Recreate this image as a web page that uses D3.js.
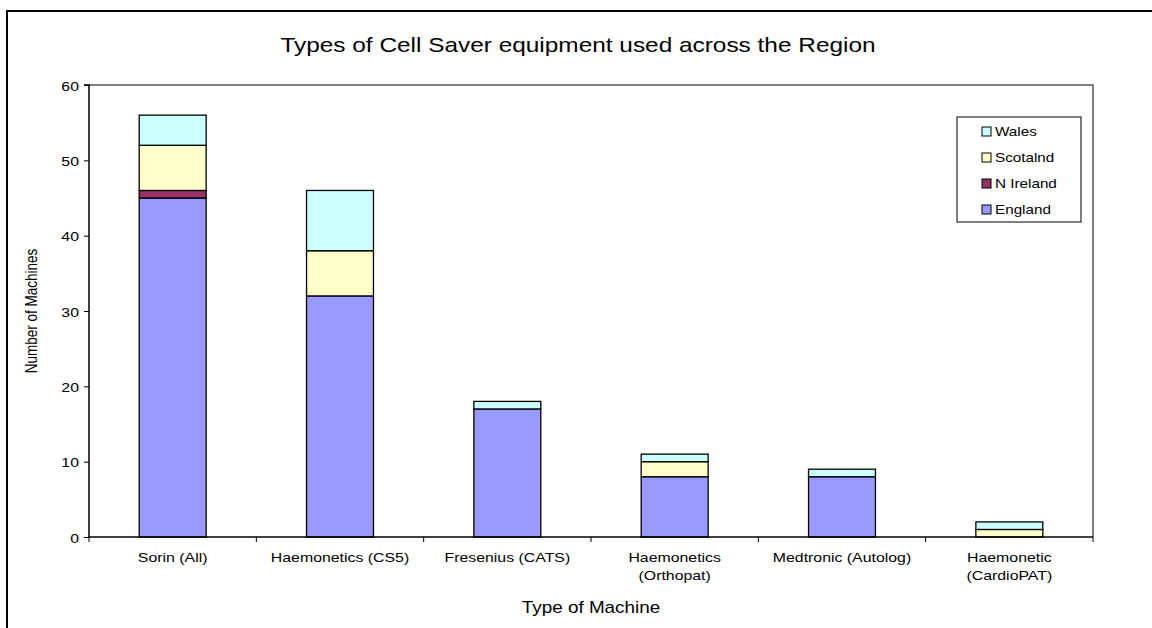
<!DOCTYPE html>
<html>
<head>
<meta charset="utf-8">
<script src="https://cdn.jsdelivr.net/npm/d3@7/dist/d3.min.js"></script>
<style>
  html, body { margin: 0; padding: 0; background: #fff; }
  svg { display: block; font-family: "Liberation Sans", Arial, sans-serif; }
</style>
</head>
<body>
<svg id="chart" width="1152" height="628"></svg>
<script>
const categories = ["Sorin (All)", "Haemonetics (CS5)", "Fresenius (CATS)", "Haemonetics\n(Orthopat)", "Medtronic (Autolog)", "Haemonetic\n(CardioPAT)"];
const seriesNames = ["England", "N Ireland", "Scotalnd", "Wales"];
const england  = [45, 32, 17, 8, 8, 0];
const nIreland = [1, 0, 0, 0, 0, 0];
const scotland = [6, 6, 0, 2, 0, 1];
const wales    = [4, 8, 1, 1, 1, 1];
const yTicks = [0, 10, 20, 30, 40, 50, 60];
const colors = ["#9999FF", "#993366", "#FFFFCC", "#CCFFFF"];

const SX = 1.22; // horizontal stretch of the reference text
const svg = d3.select("#chart");
const L = 89, R = 1093, T = 85, B = 537;

// outer chart border (cropped on right and bottom)
svg.append("path").attr("d", `M7,640 L7,11 L1160,11`).attr("fill", "none").attr("stroke", "#000").attr("stroke-width", 2);

const x = d3.scaleBand().domain(categories).range([L, R]).paddingInner(0.6).paddingOuter(0.3);
const y = d3.scaleLinear().domain([0, 60]).range([B, T]);

// plot area frame (top & right)
svg.append("path").attr("d", `M${L},${T} L${R},${T} L${R},${B}`).attr("fill", "none").attr("stroke", "#555").attr("stroke-width", 1.5);

const rows = categories.map((c, i) => ({ cat: c, England: england[i], "N Ireland": nIreland[i], Scotalnd: scotland[i], Wales: wales[i] }));
const stacked = d3.stack().keys(seriesNames)(rows);

const g = svg.append("g");
stacked.forEach((layer, si) => {
  g.selectAll(null).data(layer.filter(d => d[1] > d[0])).enter().append("rect")
    .attr("x", d => x(d.data.cat))
    .attr("width", x.bandwidth())
    .attr("y", d => y(d[1]))
    .attr("height", d => y(d[0]) - y(d[1]))
    .attr("fill", colors[si])
    .attr("stroke", "#000")
    .attr("stroke-width", 1.3);
});

// helper for stretched text
function stext(parent, cx, cy, str, size, anchor, sx) {
  return parent.append("text")
    .attr("transform", `translate(${cx},${cy}) scale(${sx},1)`)
    .attr("text-anchor", anchor).attr("font-size", size).attr("fill", "#000").text(str);
}

// y axis
const yAxis = d3.axisLeft(y).tickValues(yTicks).tickSize(5).tickPadding(4);
const ya = svg.append("g").attr("transform", `translate(${L},0)`).call(yAxis);
ya.select(".domain").attr("stroke", "#000").attr("stroke-width", 1.5).attr("d", `M-5,${T}H0V${B}`);
ya.selectAll(".tick line").attr("stroke", "#000");
ya.selectAll(".tick text")
  .attr("x", 0).attr("dy", null).attr("y", 5)
  .attr("transform", `translate(-10,0) scale(${SX},1)`)
  .attr("font-size", 13).attr("fill", "#000").attr("font-family", "Liberation Sans, Arial, sans-serif");

// x axis baseline and boundary ticks
const xa = svg.append("g").attr("transform", `translate(0,${B})`);
xa.append("line").attr("x1", L).attr("x2", R).attr("y1", 0).attr("y2", 0).attr("stroke", "#000").attr("stroke-width", 1.5);
const bounds = d3.range(categories.length + 1).map(i => L + i * (R - L) / categories.length);
xa.selectAll(".xt").data(bounds).enter().append("line")
  .attr("x1", d => d).attr("x2", d => d).attr("y1", 0).attr("y2", 5).attr("stroke", "#000");

// category labels
categories.forEach(c => {
  const cx = x(c) + x.bandwidth() / 2;
  c.split("\n").forEach((ln, i) => stext(svg, cx, 562 + i * 18, ln, 13, "middle", SX));
});

// title
stext(svg, 578, 52, "Types of Cell Saver equipment used across the Region", 20, "middle", SX);

// axis titles
stext(svg, (L + R) / 2, 613, "Type of Machine", 16, "middle", 1.18);
svg.append("text").attr("transform", `translate(37,${(T + B) / 2}) rotate(-90) scale(1,${SX})`).attr("text-anchor", "middle").attr("font-size", 13.5).attr("fill", "#000")
  .text("Number of Machines");

// legend
const lg = svg.append("g");
lg.append("rect").attr("x", 957).attr("y", 117).attr("width", 124).attr("height", 105).attr("fill", "#fff").attr("stroke", "#000").attr("stroke-width", 1);
const legendOrder = [3, 2, 1, 0];
legendOrder.forEach((si, i) => {
  const cy = 131 + i * 26;
  lg.append("rect").attr("x", 982).attr("y", cy - 4).attr("width", 9).attr("height", 9).attr("fill", colors[si]).attr("stroke", "#000").attr("stroke-width", 1);
  stext(lg, 995, cy + 5, seriesNames[si], 13.5, "start", 1.13);
});
</script>
</body>
</html>
